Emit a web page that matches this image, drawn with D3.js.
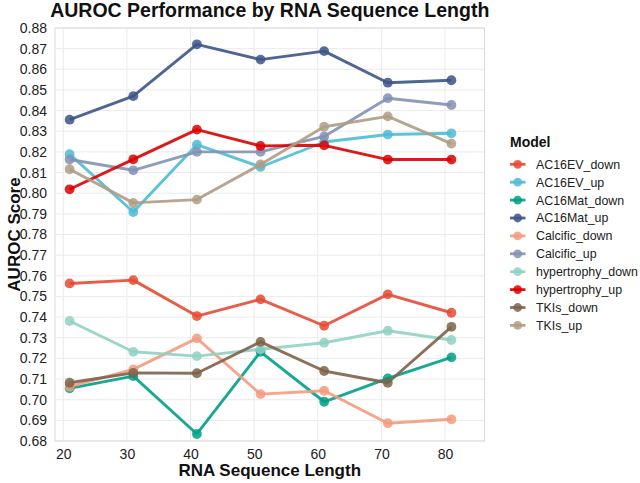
<!DOCTYPE html>
<html><head><meta charset="utf-8">
<script src="https://cdn.jsdelivr.net/npm/d3@7"></script>
<style>body{margin:0;background:#fff}svg{display:block;font-family:"Liberation Sans",Arial,sans-serif}</style>
</head><body>
<svg id="c" width="640" height="483"></svg>
<script>
const lengths = [21, 31, 41, 51, 61, 71, 81];
const models = ["AC16EV_down","AC16EV_up","AC16Mat_down","AC16Mat_up","Calcific_down","Calcific_up","hypertrophy_down","hypertrophy_up","TKIs_down","TKIs_up"];
const colors = ["#E64B35","#4DBBD5","#00A087","#3C5488","#F39B7F","#8491B4","#91D1C2","#DC0000","#7E6148","#B09C85"];
const AC16EV_down = [0.7563,0.7579,0.7405,0.7486,0.7358,0.7510,0.7421];
const AC16EV_up = [0.8189,0.7909,0.8235,0.8127,0.8248,0.8284,0.8290];
const AC16Mat_down = [0.7055,0.7114,0.6834,0.7232,0.6990,0.7103,0.7205];
const AC16Mat_up = [0.8356,0.8470,0.8721,0.8647,0.8688,0.8535,0.8547];
const Calcific_down = [0.7063,0.7147,0.7297,0.7027,0.7043,0.6886,0.6905];
const Calcific_up = [0.8163,0.8111,0.8200,0.8200,0.8275,0.8460,0.8427];
const hypertrophy_down = [0.7381,0.7232,0.7211,0.7244,0.7276,0.7334,0.7289];
const hypertrophy_up = [0.8019,0.8164,0.8308,0.8229,0.8232,0.8163,0.8163];
const TKIs_down = [0.7082,0.7130,0.7128,0.7280,0.7139,0.7082,0.7353];
const TKIs_up = [0.8116,0.7953,0.7969,0.8139,0.8322,0.8372,0.8240];
const seriesValues = [AC16EV_down,AC16EV_up,AC16Mat_down,AC16Mat_up,Calcific_down,Calcific_up,hypertrophy_down,hypertrophy_up,TKIs_down,TKIs_up];
const xTicks = [20,30,40,50,60,70,80];
const yTicks = d3.range(0,21).map(i => +(0.68 + i*0.01).toFixed(2));

const svg = d3.select("#c");
const L = 55, R = 484.5, T = 28, B = 441;
const x = d3.scaleLinear().domain([18.7, 86.2]).range([L, R]);
const y = d3.scaleLinear().domain([0.68, 0.88]).range([B, T]);

// grid
const g = svg.append("g");
g.selectAll(".vg").data(xTicks).join("line")
  .attr("x1", d=>x(d)).attr("x2", d=>x(d)).attr("y1", T).attr("y2", B)
  .attr("stroke", "#ebebeb").attr("stroke-width", 1);
g.selectAll(".hg").data(yTicks).join("line")
  .attr("x1", L).attr("x2", R).attr("y1", d=>y(d)).attr("y2", d=>y(d))
  .attr("stroke", "#ebebeb").attr("stroke-width", 1);
g.append("rect").attr("x", L).attr("y", T).attr("width", R-L).attr("height", B-T)
  .attr("fill", "none").attr("stroke", "#d9d9d9").attr("stroke-width", 1);

// axes
const xa = svg.append("g").attr("transform", `translate(0,${B})`)
  .call(d3.axisBottom(x).tickValues(xTicks).tickSize(0).tickPadding(8));
const ya = svg.append("g").attr("transform", `translate(${L},0)`)
  .call(d3.axisLeft(y).tickValues(yTicks).tickFormat(d3.format(".2f")).tickSize(0).tickPadding(8));
[xa, ya].forEach(a => {
  a.select(".domain").remove();
  a.selectAll("text").attr("font-size", 14).attr("fill", "#222").attr("font-family", "Liberation Sans, Arial, sans-serif");
});

// lines
const line = d3.line().x((d,i)=>x(lengths[i])).y(d=>y(d));
svg.append("g").selectAll("path").data(seriesValues).join("path")
  .attr("d", d=>line(d)).attr("fill", "none")
  .attr("stroke", (d,i)=>colors[i]).attr("stroke-width", 2.9).attr("stroke-opacity", 0.9)
  .attr("stroke-linejoin", "round");
// points
const pg = svg.append("g");
seriesValues.forEach((vals, si) => {
  pg.append("g").selectAll("circle").data(vals).join("circle")
    .attr("cx", (d,i)=>x(lengths[i])).attr("cy", d=>y(d)).attr("r", 4.9)
    .attr("fill", colors[si]).attr("fill-opacity", 0.85);
});

// titles
svg.append("text").attr("x", (L+R)/2).attr("y", 16.5).attr("text-anchor", "middle")
  .attr("font-size", 19.5).attr("font-weight", "bold").attr("fill", "#111")
  .text("AUROC Performance by RNA Sequence Length");
svg.append("text").attr("x", (L+R)/2).attr("y", 476).attr("text-anchor", "middle")
  .attr("font-size", 17).attr("font-weight", "bold").attr("fill", "#111")
  .text("RNA Sequence Length");
svg.append("text").attr("transform", `translate(19.5,${(T+B)/2}) rotate(-90)`).attr("text-anchor", "middle")
  .attr("font-size", 17).attr("font-weight", "bold").attr("fill", "#111")
  .text("AUROC Score");

// legend
const lg = svg.append("g");
lg.append("text").attr("x", 510).attr("y", 146.5).attr("font-size", 14).attr("font-weight", "bold").attr("fill", "#111").text("Model");
const items = lg.selectAll("g.it").data(models).join("g").attr("class","it")
  .attr("transform", (d,i)=>`translate(0,${164.3 + i*17.9})`);
items.append("line").attr("x1", 510).attr("x2", 525.5).attr("y1", 0).attr("y2", 0)
  .attr("stroke", (d,i)=>colors[i]).attr("stroke-width", 2.8).attr("stroke-opacity", 0.9);
items.append("circle").attr("cx", 517.7).attr("cy", 0).attr("r", 4.4)
  .attr("fill", (d,i)=>colors[i]).attr("fill-opacity", 0.85);
items.append("text").attr("x", 536).attr("y", 4.4).attr("font-size", 12.4).attr("fill", "#222").text(d=>d);
</script>
</body></html>
